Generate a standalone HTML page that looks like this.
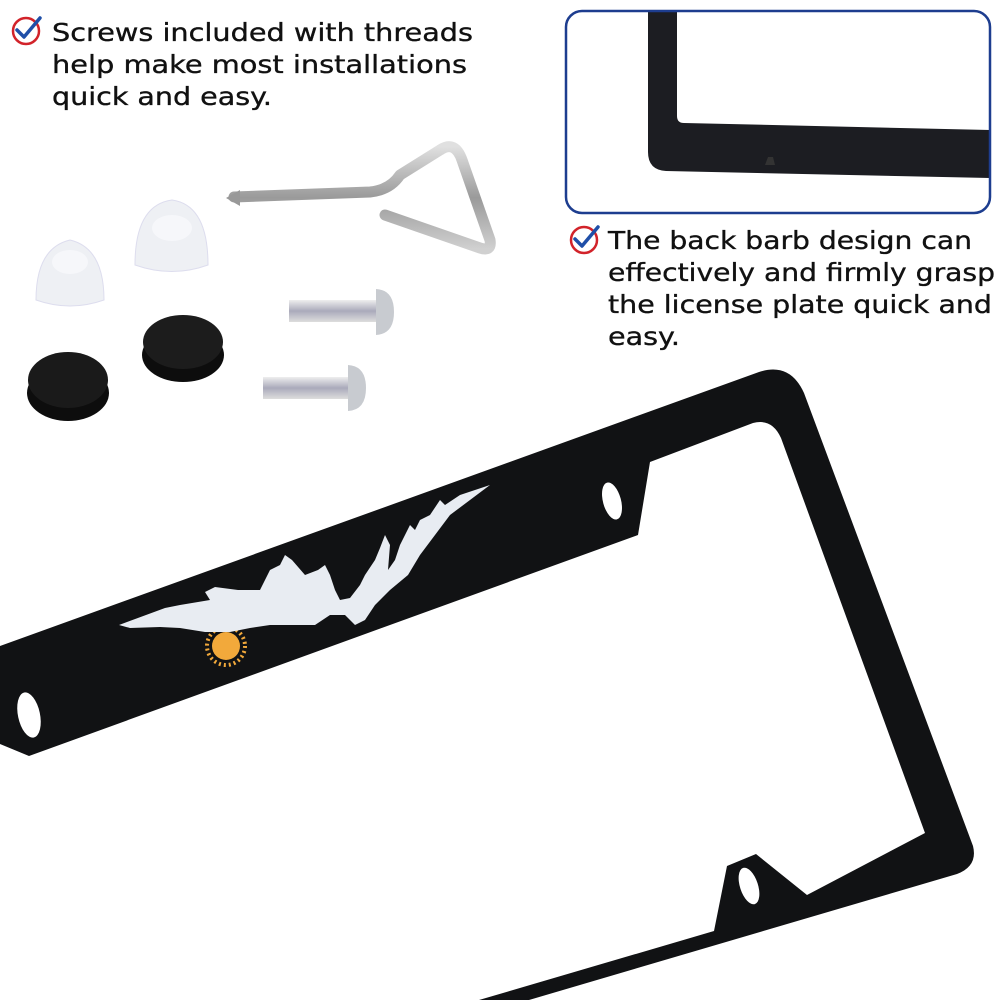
<!DOCTYPE html>
<html><head><meta charset="utf-8"><style>
html,body{margin:0;padding:0;background:#fff;width:1000px;height:1000px;overflow:hidden}
svg{display:block}
text{font-family:"DejaVu Sans","Liberation Sans",sans-serif;font-size:25px;fill:#111;stroke:#111;stroke-width:0.35}
</style></head><body>
<svg width="1000" height="1000" viewBox="0 0 1000 1000" xmlns="http://www.w3.org/2000/svg">
<defs>
<linearGradient id="steel" x1="0" y1="0" x2="0" y2="1"><stop offset="0" stop-color="#e0e0e0"/><stop offset=".5" stop-color="#9a9a9a"/><stop offset="1" stop-color="#d0d0d0"/></linearGradient>
<linearGradient id="thr" x1="0" y1="0" x2="0" y2="1"><stop offset="0" stop-color="#eee"/><stop offset=".5" stop-color="#aab"/><stop offset="1" stop-color="#ddd"/></linearGradient>
</defs>
<g><circle cx="26" cy="31" r="13" fill="none" stroke="#d2232a" stroke-width="2.5"/>
<path d="M17 30 L24 37 L40 18" fill="none" stroke="#1f4fa8" stroke-width="3.5" stroke-linecap="round" stroke-linejoin="round"/></g>
<g><circle cx="584" cy="240" r="13" fill="none" stroke="#d2232a" stroke-width="2.5"/>
<path d="M575 239 L582 246 L598 227" fill="none" stroke="#1f4fa8" stroke-width="3.5" stroke-linecap="round" stroke-linejoin="round"/></g>
<text x="52" y="41" textLength="421" lengthAdjust="spacingAndGlyphs">Screws included with threads</text>
<text x="52" y="73" textLength="415" lengthAdjust="spacingAndGlyphs">help make most installations</text>
<text x="52" y="105" textLength="220" lengthAdjust="spacingAndGlyphs">quick and easy.</text>
<text x="608" y="249" textLength="364" lengthAdjust="spacingAndGlyphs">The back barb design can</text>
<text x="608" y="281" textLength="387" lengthAdjust="spacingAndGlyphs">effectively and firmly grasp</text>
<text x="608" y="313" textLength="384" lengthAdjust="spacingAndGlyphs">the license plate quick and</text>
<text x="608" y="345" textLength="72" lengthAdjust="spacingAndGlyphs">easy.</text>
<path d="M648 12 L648 152 Q648 170 666 171 L990 178 L990 130 L684 123 Q677 123 677 116 L677 12 Z" fill="#1c1d22"/>
<path d="M765 165 L768 157 L773 157 L775 165 Z" fill="#333"/>
<rect x="566" y="11" width="424" height="202" rx="16" fill="none" stroke="#1d3d8f" stroke-width="2.5"/>
<g>
<path d="M36 300 Q36 248 70 240 Q104 248 104 300 Q70 312 36 300 Z" fill="#eef0f4" stroke="#dde" stroke-width="1"/>
<ellipse cx="70" cy="262" rx="18" ry="12" fill="#f6f7fa"/>
<path d="M135 265 Q135 205 172 200 Q208 205 208 265 Q172 278 135 265 Z" fill="#eef0f4" stroke="#dde" stroke-width="1"/>
<ellipse cx="172" cy="228" rx="20" ry="13" fill="#f6f7fa"/>
<ellipse cx="68" cy="393" rx="41" ry="28" fill="#0d0d0d"/>
<ellipse cx="68" cy="380" rx="40" ry="28" fill="#1a1a1a"/>
<ellipse cx="183" cy="355" rx="41" ry="27" fill="#0d0d0d"/>
<ellipse cx="183" cy="342" rx="40" ry="27" fill="#1c1c1c"/>
<path d="M234 197 L370 192 Q390 190 400 175 L440 150 Q455 140 462 160 L490 240 Q492 252 480 248 L385 215" fill="none" stroke="url(#steel)" stroke-width="11" stroke-linejoin="round" stroke-linecap="round"/>
<path d="M226 198 L240 190 L240 206 Z" fill="#999"/>
<rect x="289" y="300" width="88" height="22" fill="url(#thr)"/>
<path d="M376 289 Q394 290 394 312 Q394 334 376 335 Z" fill="#c8cbd0"/>
<rect x="263" y="377" width="86" height="22" fill="url(#thr)"/>
<path d="M348 365 Q366 366 366 388 Q366 410 348 411 Z" fill="#c8cbd0"/>
</g>
<path fill-rule="evenodd" fill="#111214" d="
M0 646 L759 372 Q790 362 804 393 L973 846 Q978 866 957 874 L529 1000 L479 1000 L714 931 L727 866 L756 854 L807 895 L925 833 L781 438 Q772 418 753 423 L650 462 L638 535 L29 756 L0 744 Z"/>
<ellipse cx="29" cy="715" rx="11" ry="23" transform="rotate(-12 29 715)" fill="#fff"/>
<ellipse cx="612" cy="501" rx="9" ry="19" transform="rotate(-15 612 501)" fill="#fff"/>
<ellipse cx="749" cy="886" rx="9" ry="19" transform="rotate(-18 749 886)" fill="#fff"/>
<circle cx="226" cy="646" r="14" fill="#f2a93b"/>
<circle cx="226" cy="646" r="19" fill="none" stroke="#f2a93b" stroke-width="4" stroke-dasharray="2 3"/>
<path fill="#e8ecf2" d="M119 625 L165 608 L180 605 L210 600 L205 592 L215 587 L238 590 L260 590 L270 570 L280 565 L285 555 L292 560 L305 575 L318 570 L325 565 L330 575 L335 590 L340 600 L350 598 L360 585 L365 575 L375 560 L380 548 L385 535 L390 545 L388 570 L395 560 L400 545 L405 535 L410 525 L415 530 L420 520 L430 515 L440 500 L445 505 L460 495 L490 485 L450 515 L435 535 L420 555 L408 575 L390 590 L375 605 L365 620 L355 625 L345 615 L330 615 L315 625 L295 625 L270 625 L250 628 L230 632 L205 632 L180 628 L160 627 L130 628 Z"/>
</svg>
</body></html>
